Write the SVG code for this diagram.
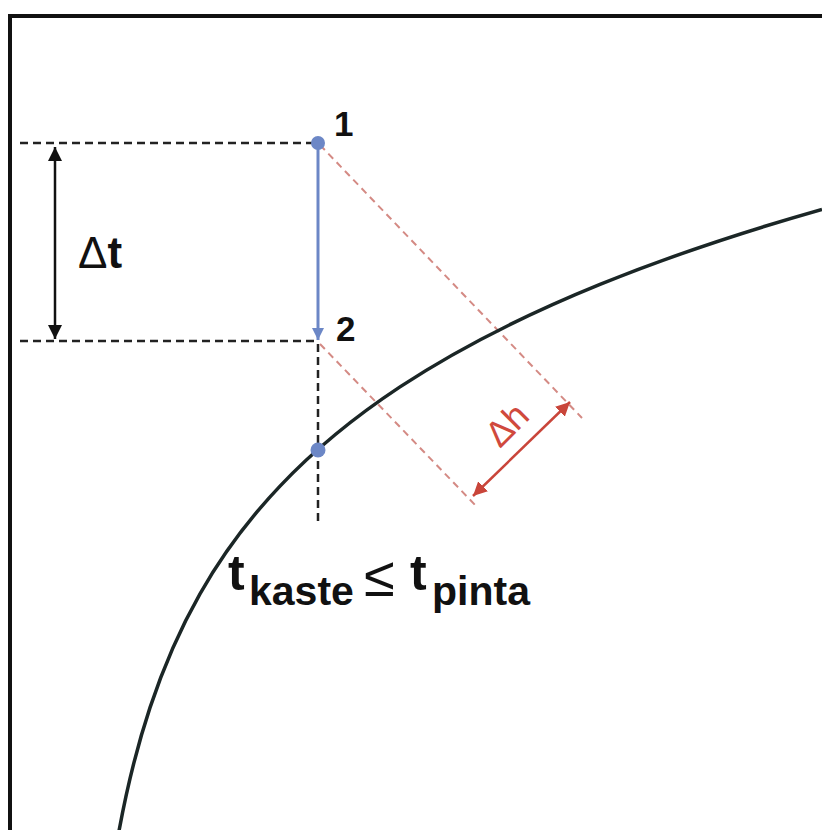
<svg xmlns="http://www.w3.org/2000/svg" width="822" height="830" viewBox="0 0 822 830">
<style>
.frame{stroke:#111;stroke-width:4;fill:none}
.bdash{stroke:#222;stroke-width:2.5;stroke-dasharray:8 5;fill:none}
.rdash{stroke:#d48a84;stroke-width:2;stroke-dasharray:7 5;fill:none}
.curve{stroke:#1b2626;stroke-width:3.5;fill:none}
.blue{stroke:#6c87c6;stroke-width:3;fill:none}
.txt{font-family:"Liberation Sans",Arial,sans-serif;fill:#111}
</style>
<defs>
<marker id="abk" viewBox="0 0 10 10" refX="10" refY="5" markerWidth="14" markerHeight="14" markerUnits="userSpaceOnUse" orient="auto-start-reverse"><path d="M0,0 L10,5 L0,10 z" fill="#111"/></marker>
<marker id="ar" viewBox="0 0 10 10" refX="10" refY="5" markerWidth="14" markerHeight="14" markerUnits="userSpaceOnUse" orient="auto-start-reverse"><path d="M0,0 L10,5 L0,10 z" fill="#c9453a"/></marker>
<marker id="abl" viewBox="0 0 10 10" refX="10" refY="5" markerWidth="12" markerHeight="12" markerUnits="userSpaceOnUse" orient="auto"><path d="M0,0 L10,5 L0,10 z" fill="#6c87c6"/></marker>
</defs>
<rect width="822" height="830" fill="#fff"/>
<g id="frame">
<path class="frame" d="M10,830 L10,16 L822,16"/>
</g>
<g id="connectors">
<path class="bdash" d="M20,143 L314,143"/>
<path class="bdash" d="M20,341 L314,341"/>
<path class="bdash" d="M318,344 L318,525"/>
<path class="rdash" d="M320,145 L582,418"/>
<path class="rdash" d="M320,344 L478,508"/>
<path d="M55,147 L55,339" stroke="#111" stroke-width="2.5" marker-start="url(#abk)" marker-end="url(#abk)"/>
<path d="M473,496 L570,402" stroke="#c9453a" stroke-width="2.5" marker-start="url(#ar)" marker-end="url(#ar)"/>
<path class="blue" d="M318,143 L318,340" marker-end="url(#abl)"/>
</g>
<g id="curve">
<path class="curve" d="M119,831 C129.33,775.1 139.67,738.7 150,707.6 C166.67,657.4 183.33,623.1 200,593.8 C226.67,546.9 253.33,514.2 280,486.1 C320,443.9 360,413.3 400,386.9 C466.67,343 533.33,311.5 600,284.4 C674,254.4 748,230.4 822,209.4"/>
</g>
<g id="point1">
<circle cx="318" cy="143" r="7" fill="#6c87c6"/>
<text class="txt" x="334" y="136" font-size="35" font-weight="bold">1</text>
</g>
<g id="point2">
<text class="txt" x="336" y="341" font-size="35" font-weight="bold">2</text>
</g>
<g id="pointcurve">
<circle cx="318" cy="450" r="7.5" fill="#6c87c6"/>
</g>
<g id="label-dt">
<text class="txt" x="78" y="268" font-size="44">Δ<tspan font-weight="bold">t</tspan></text>
</g>
<g id="label-dh">
<text class="txt" x="0" y="0" font-size="36" style="fill:#d0493d" transform="translate(500,449) rotate(-45)">Δh</text>
</g>
<g id="label-t">
<text class="txt" x="228" y="590" font-size="50" font-weight="bold">t</text>
<text class="txt" x="249" y="605" font-size="41" font-weight="bold">kaste</text>
<text class="txt" x="364" y="596" font-size="56">≤</text>
<text class="txt" x="410" y="590" font-size="50" font-weight="bold">t</text>
<text class="txt" x="432" y="605" font-size="41" font-weight="bold">pinta</text>
</g>
</svg>
